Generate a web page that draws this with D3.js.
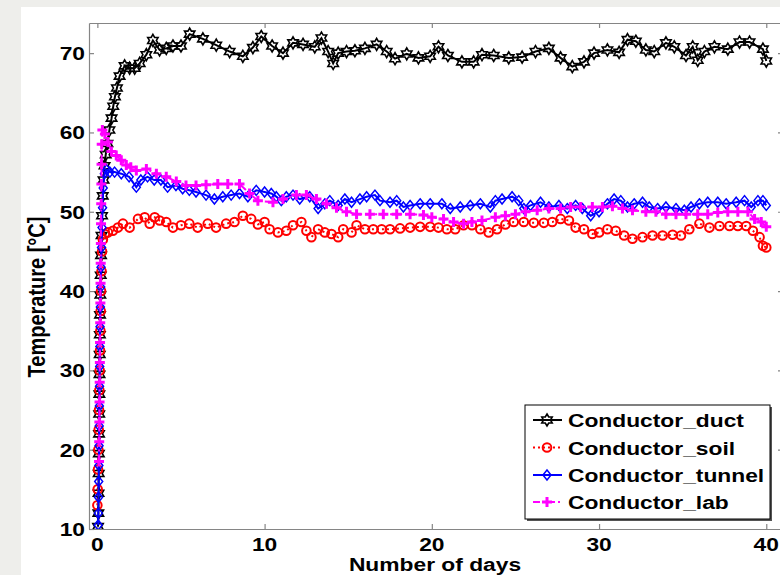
<!DOCTYPE html>
<html>
<head>
<meta charset="utf-8">
<script src="https://cdn.jsdelivr.net/npm/d3@7"></script>
<style>
  html, body { margin: 0; padding: 0; background: #eeeeeb; }
  svg { display: block; }
  text { font-family: "Liberation Sans", Arial, sans-serif; font-weight: bold; fill: #000; }
</style>
</head>
<body>
<svg id="chart" width="780" height="575"></svg>
<script>
// ---------------- DATA ----------------
const xTicks = [0, 10, 20, 30, 40];
const yTicks = [10, 20, 30, 40, 50, 60, 70];
const xLabel = "Number of days";
const yLabel = "Temperature [°C]";
const seriesNames = ["Conductor_duct", "Conductor_soil", "Conductor_tunnel", "Conductor_lab"];

const ductDays = [0.04,0.06,0.07,0.08,0.09,0.1,0.11,0.12,0.13,0.14,0.15,0.16,0.18,0.2,0.22,0.25,0.28,0.32,0.37,0.43,0.5,0.6,0.72,0.85,0.95,1.05,1.17,1.33,1.63,1.93,2.23,2.53,2.93,3.32,3.72,4.12,4.52,5.0,5.52,6.31,7.11,7.91,8.7,9.3,9.8,10.45,11.1,11.7,12.3,13.0,13.4,13.8,14.1,14.4,14.9,15.4,16.0,16.7,17.3,17.8,18.5,19.2,19.9,20.4,20.96,21.8,22.5,23.0,23.7,24.6,25.4,26.2,27.0,27.7,28.4,29.1,29.7,30.5,31.2,31.7,32.2,32.8,33.3,34.0,34.5,35.2,35.6,35.9,36.3,36.9,37.7,38.4,39.0,39.8,40.0];
const ductTemp = [10.3,12,14.5,17,19.5,22,24.5,27,29.5,32,34.5,37,39.5,42,44.5,47,49.5,52,54,55.8,57.2,58.6,60.3,61.8,63.3,64.5,65.6,67.1,68.4,68.1,68.1,68.7,69.8,71.6,70.4,70.6,70.9,70.9,72.4,71.8,71.0,70.2,69.6,70.7,72.1,70.9,70.0,71.3,71.1,70.8,71.9,70.2,68.7,70.0,70.2,70.3,70.6,71.1,70.2,69.3,69.9,69.4,69.6,70.8,69.7,68.9,68.9,69.8,69.7,69.4,69.5,70.2,70.6,69.4,68.3,68.9,70.0,70.4,70.1,71.7,71.5,70.4,70.2,71.3,70.8,69.7,70.8,69.1,70.2,70.8,70.5,71.4,71.4,70.5,69.0];

const soilDays = [0.0,0.02,0.04,0.06,0.08,0.1,0.12,0.14,0.16,0.18,0.2,0.22,0.25,0.28,0.33,0.45,0.63,0.93,1.23,1.53,1.93,2.43,2.83,3.13,3.43,3.72,4.12,4.52,5.0,5.5,6.0,6.6,7.1,7.7,8.2,8.7,9.2,9.6,10.0,10.3,10.8,11.3,11.7,12.2,12.5,12.8,13.2,13.6,14.0,14.4,14.7,15.2,15.5,16.0,16.5,17.0,17.5,18.1,18.7,19.3,19.9,20.4,20.9,21.4,21.9,22.4,22.9,23.4,23.9,24.4,24.9,25.5,26.1,26.7,27.2,27.7,28.2,28.6,29.1,29.6,30.0,30.5,31.0,31.5,32.0,32.6,33.2,33.8,34.4,34.9,35.4,36.0,36.6,37.2,37.8,38.3,38.8,39.2,39.6,39.8,40.0];
const soilTemp = [13,15,17.5,20,22.5,25,27.5,30,32.5,35,37.5,40,42.5,45,46.5,47.2,47.4,47.6,48.0,48.5,48.0,49.1,49.3,48.5,49.3,48.9,48.7,48.0,48.3,48.5,48.0,48.5,48.0,48.5,48.7,49.5,49.1,48.4,48.7,47.8,47.4,47.6,48.3,48.7,47.6,46.8,47.8,47.4,47.2,46.8,47.8,47.4,48.3,47.8,47.8,47.8,47.8,47.9,48.0,48.1,48.1,48.0,47.8,47.8,48.3,48.3,47.8,47.4,47.8,48.4,48.7,48.7,48.6,48.6,48.7,49.1,48.9,48.0,47.8,47.2,47.4,47.8,47.6,47.0,46.6,46.8,47.0,47.0,47.1,47.0,47.8,48.5,48.0,48.2,48.2,48.2,48.2,47.6,46.8,45.7,45.5];

const tunnelDays = [0.05,0.06,0.07,0.08,0.09,0.1,0.11,0.12,0.13,0.14,0.15,0.16,0.18,0.2,0.22,0.25,0.28,0.31,0.35,0.42,0.55,0.75,1.03,1.43,1.9,2.33,2.6,3.0,3.4,3.8,4.2,4.7,5.1,5.5,5.9,6.5,7.0,7.5,8.0,8.5,9.0,9.5,10.0,10.4,10.7,11.0,11.3,11.7,12.1,12.7,13.2,13.6,13.9,14.4,14.8,15.2,15.7,16.1,16.6,16.9,17.5,17.9,18.3,18.7,19.3,19.9,20.6,21.1,21.7,22.3,22.9,23.5,23.8,24.2,24.8,25.2,25.5,25.9,26.5,27.0,27.6,28.1,28.6,29.0,29.5,30.0,30.5,30.9,31.3,31.7,32.1,32.6,33.0,33.5,34.0,34.6,35.1,35.5,36.0,36.5,37.1,37.6,38.2,38.7,39.1,39.5,39.8,40.0];
const tunnelTemp = [10.5,12,14,16,18,20.5,23,25.5,28,30.5,33,35.5,38,40.5,43,45.5,48,50.5,53,54.8,55.3,55.0,55.0,54.8,54.4,53.1,54.0,54.4,54.0,54.0,53.1,53.3,52.9,52.7,52.5,52.1,51.6,51.9,52.1,52.3,51.9,52.7,52.5,52.3,51.9,51.4,51.9,52.1,51.6,51.9,50.4,51.0,51.4,50.8,51.6,51.2,51.6,51.9,52.1,51.4,51.2,51.4,50.6,50.8,51.0,51.0,51.0,50.4,50.6,50.8,51.0,50.6,51.4,51.6,51.9,51.4,50.4,50.8,51.2,50.6,50.8,50.4,50.8,50.4,49.5,50.0,51.0,51.6,51.4,50.6,51.0,51.2,50.6,50.4,50.6,50.4,50.2,50.6,51.0,51.2,51.2,51.0,51.2,51.4,50.6,51.4,51.4,50.8];

const labDays = [0.1,0.11,0.12,0.13,0.14,0.15,0.16,0.17,0.18,0.19,0.2,0.21,0.22,0.23,0.24,0.25,0.26,0.3,0.45,0.63,0.84,1.13,1.43,1.73,2.0,2.33,2.93,3.53,4.12,4.72,5.3,5.9,6.5,7.2,7.8,8.5,9.1,9.6,10.5,11.1,11.9,12.5,13.1,13.7,14.3,14.9,15.5,16.3,17.1,17.9,18.7,19.5,20.0,20.7,21.3,21.9,22.4,23.0,23.8,24.4,25.0,25.6,26.3,27.0,27.7,28.3,28.9,29.6,30.2,30.8,31.4,32.0,32.8,33.4,34.0,34.6,35.2,35.9,36.5,37.1,37.7,38.3,38.9,39.3,39.7,40.0];
const labTemp = [18.5,21,23.5,26,28.5,31,33.5,36,38.5,41,43.5,46,48.5,51,53.5,56,58.5,60.3,59.8,58.8,57.6,57.1,56.5,55.9,55.6,55.2,55.4,54.8,54.4,53.8,53.3,53.3,53.4,53.5,53.5,53.5,52.3,51.4,51.2,51.6,52.1,52.1,51.6,51.0,50.5,50.0,49.7,49.7,49.7,49.7,49.7,49.6,49.3,49.1,48.7,48.5,48.7,48.9,49.3,49.5,49.7,50.0,50.2,50.4,50.4,50.6,50.6,50.6,50.6,50.7,50.4,50.2,50.0,50.0,49.7,49.7,49.7,49.7,49.7,49.9,50.0,50.0,50.0,49.1,48.7,48.1];

// ---------------- LAYOUT ----------------
const svg = d3.select("#chart");
const W = 780, H = 575;
const plot = { left: 89, top: 23, right: 783, bottom: 529 };
const SX = 1.2; // horizontal stretch of text in the reference
const FONT = 19;

svg.append("rect").attr("x", 0).attr("y", 0).attr("width", W).attr("height", H).attr("fill", "#eeeeeb");
svg.append("rect").attr("x", 21).attr("y", 7).attr("width", W - 21).attr("height", H - 7).attr("fill", "#ffffff");

const x = d3.scaleLinear().domain([-0.5, 41]).range([plot.left, plot.right]);
const y = d3.scaleLinear().domain([10, 73.8]).range([plot.bottom, plot.top]);

function sText(parent, px, py, str, anchor, size, rot) {
  const t = parent.append("text")
    .attr("transform", `translate(${px},${py}) scale(${SX},1)` + (rot ? ` rotate(${rot})` : ""))
    .attr("text-anchor", anchor)
    .attr("font-size", size)
    .text(str);
  return t;
}

// clip for data
svg.append("clipPath").attr("id", "clip").append("rect")
  .attr("x", plot.left).attr("y", plot.top)
  .attr("width", plot.right - plot.left).attr("height", plot.bottom - plot.top);

// ---------------- AXES ----------------
const axisColor = "#858585";
const gx = svg.append("g").attr("transform", `translate(0,${plot.bottom})`)
  .call(d3.axisBottom(x).tickValues(xTicks).tickSizeInner(-5).tickSizeOuter(0).tickFormat(""));
const gxt = svg.append("g").attr("transform", `translate(0,${plot.top})`)
  .call(d3.axisTop(x).tickValues(xTicks).tickSizeInner(-5).tickSizeOuter(0).tickFormat(""));
const gy = svg.append("g").attr("transform", `translate(${plot.left},0)`)
  .call(d3.axisLeft(y).tickValues(yTicks).tickSizeInner(-5).tickSizeOuter(0).tickFormat(""));
const gyr = svg.append("g").attr("transform", `translate(${plot.right},0)`)
  .call(d3.axisRight(y).tickValues(yTicks).tickSizeInner(-5).tickSizeOuter(0).tickFormat(""));
[gx, gxt, gy, gyr].forEach(g => {
  g.selectAll("path").attr("stroke", axisColor).attr("stroke-width", 1.2);
  g.selectAll("line").attr("stroke", axisColor).attr("stroke-width", 1.2);
});

const labels = svg.append("g");
xTicks.forEach(v => sText(labels, x(v), 551, String(v), "middle", FONT));
yTicks.forEach(v => sText(labels, 85, y(v) + 7, String(v), "end", FONT));
sText(labels, (plot.left + plot.right) / 2 - 1, 571, xLabel, "middle", FONT);
sText(labels, 45, 297, yLabel, "middle", 20, -90);

// ---------------- MARKERS ----------------
function hexagram(r) {
  const pts = [];
  for (let i = 0; i < 12; i++) {
    const a = -Math.PI / 2 + i * Math.PI / 6;
    const rr = i % 2 === 0 ? r : r * 0.577;
    pts.push([rr * Math.cos(a), rr * Math.sin(a)]);
  }
  return "M" + pts.map(p => p.join(",")).join("L") + "Z";
}
const markers = {
  duct: g => g.append("path").attr("d", hexagram(6)).attr("fill", "none").attr("stroke", "#000").attr("stroke-width", 1.6),
  soil: g => g.append("circle").attr("r", 4.3).attr("fill", "none").attr("stroke", "#ff0000").attr("stroke-width", 2),
  tunnel: g => g.append("path").attr("d", "M0,-5L4,0L0,5L-4,0Z").attr("fill", "none").attr("stroke", "#0000ff").attr("stroke-width", 1.5),
  lab: g => g.append("path").attr("d", "M-5,0H5M0,-5V5").attr("fill", "none").attr("stroke", "#ff00ff").attr("stroke-width", 3)
};

const series = [
  { key: "duct", name: seriesNames[0], days: ductDays, temp: ductTemp, color: "#000000", dash: null },
  { key: "soil", name: seriesNames[1], days: soilDays, temp: soilTemp, color: "#ff0000", dash: "2,3" },
  { key: "tunnel", name: seriesNames[2], days: tunnelDays, temp: tunnelTemp, color: "#0000ff", dash: null },
  { key: "lab", name: seriesNames[3], days: labDays, temp: labTemp, color: "#ff00ff", dash: "7,3,2,3" }
];

const line = d3.line().x(d => x(d[0])).y(d => y(d[1]));
const dataG = svg.append("g").attr("clip-path", "url(#clip)");
series.forEach(s => {
  const pts = s.days.map((d, i) => [d, s.temp[i]]);
  const g = dataG.append("g");
  g.append("path").datum(pts).attr("d", line)
    .attr("fill", "none").attr("stroke", s.color).attr("stroke-width", 2)
    .attr("stroke-dasharray", s.dash);
  pts.forEach(p => {
    const m = g.append("g").attr("transform", `translate(${x(p[0])},${y(p[1])})`);
    markers[s.key](m);
  });
});

// ---------------- LEGEND ----------------
const lg = svg.append("g");
lg.append("rect").attr("x", 527).attr("y", 407).attr("width", 245).attr("height", 114).attr("fill", "#555");
lg.append("rect").attr("x", 525).attr("y", 405).attr("width", 245).attr("height", 114)
  .attr("fill", "#fff").attr("stroke", "#000").attr("stroke-width", 1);
const rowY = [420, 447.5, 475, 502];
series.forEach((s, i) => {
  const ry = rowY[i];
  lg.append("line").attr("x1", 533).attr("x2", 562).attr("y1", ry).attr("y2", ry)
    .attr("stroke", s.color).attr("stroke-width", 2).attr("stroke-dasharray", s.dash);
  const m = lg.append("g").attr("transform", `translate(547,${ry})`);
  markers[s.key](m);
  sText(lg, 568, ry + 7, s.name, "start", FONT);
});
</script>
</body>
</html>
